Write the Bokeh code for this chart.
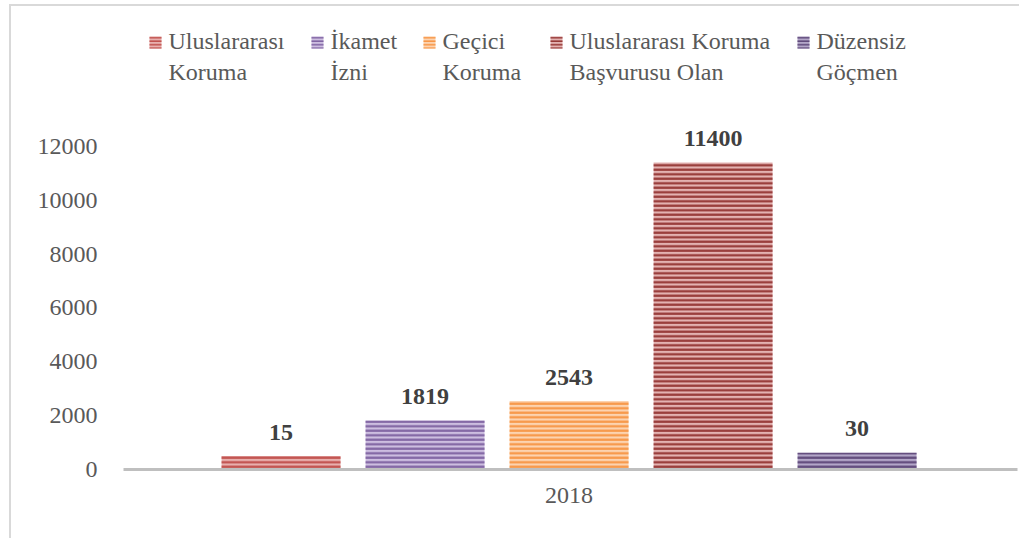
from bokeh.plotting import figure
from bokeh.models import Range1d, FixedTicker, ColumnDataSource, Label, BoxAnnotation
from bokeh.core.properties import value
from bokeh.embed import file_html
from bokeh.resources import INLINE

# ---- Data ----
categories = ["Uluslararası\nKoruma", "İkamet\nİzni", "Geçici\nKoruma",
              "Uluslararası Koruma\nBaşvurusu Olan", "Düzensiz\nGöçmen"]
labels = [15, 1819, 2543, 11400, 30]          # printed data labels
bar_heights = [500, 1819, 2543, 11400, 620]   # bar heights as drawn in the picture
year_label = "2018"
y_ticks = [0, 2000, 4000, 6000, 8000, 10000, 12000]

base_colors = ["#C0504D", "#8064A2", "#F79646", "#953735", "#5F497A"]
light_colors = ["#E8B0AE", "#CDBEE0", "#FCD3B0", "#E3B2B1", "#B3A6C8"]

# ---- Layout (screen px, relative to the plot frame's left edge) ----
legend_marker_x = [26, 188, 300, 427, 674]
FRAME_LEFT = 123
FRAME_BOTTOM = 469

FONT = "Liberation Serif"

p = figure(width=1019, height=538, output_backend="svg", toolbar_location=None,
           x_range=Range1d(-1.094, 5.114), y_range=Range1d(0, 17422),
           min_border_left=FRAME_LEFT, min_border_right=2, min_border_top=0,
           min_border_bottom=538 - FRAME_BOTTOM, outline_line_color=None,
           border_fill_color=None, background_fill_color=None)
p.styles = {
    "background": "linear-gradient(#d9d9d9,#d9d9d9) 9px 4px / 2px 100% no-repeat,"
                  " linear-gradient(#d9d9d9,#d9d9d9) 9px 4px / 100% 2px no-repeat, #ffffff"
}

xs = list(range(len(categories)))
for i, h in enumerate(bar_heights):
    p.vbar(x=[xs[i]], top=[h], bottom=0, width=0.826,
           fill_color=light_colors[i], line_color=None,
           hatch_pattern="horizontal_line", hatch_color=base_colors[i],
           hatch_scale=4.5, hatch_weight=2.2)

src = ColumnDataSource(dict(x=xs, y=bar_heights, t=[str(v) for v in labels]))
p.text(x="x", y="y", text="t", source=src, text_align="center",
       text_baseline="middle", y_offset=-24, text_font=value(FONT),
       text_font_size="24px", text_font_style="bold", text_color="#404040")

# ---- Legend (marker on the first text line, as in the original) ----
for i, cat in enumerate(categories):
    mx = legend_marker_x[i]
    p.add_layout(BoxAnnotation(
        left=mx, right=mx + 12, bottom=FRAME_BOTTOM - 48, top=FRAME_BOTTOM - 36,
        left_units="screen", right_units="screen",
        bottom_units="screen", top_units="screen",
        fill_color=light_colors[i], fill_alpha=1, line_color=None,
        hatch_pattern="horizontal_line", hatch_color=base_colors[i],
        hatch_scale=3.5, hatch_weight=1.6, level="overlay"))
    p.add_layout(Label(
        x=mx + 19, y=FRAME_BOTTOM - 27, x_units="screen", y_units="screen",
        text=cat, text_font=FONT, text_font_size="24px", text_color="#595959",
        text_align="left", text_baseline="top", text_line_height=1.2))

p.xgrid.visible = False
p.ygrid.visible = False

p.xaxis.ticker = FixedTicker(ticks=[2])
p.xaxis.major_label_overrides = {2: year_label}
p.xaxis.major_tick_line_color = None
p.xaxis.minor_tick_line_color = None
p.xaxis.axis_line_color = "#BFBFBF"
p.xaxis.axis_line_width = 3
p.xaxis.major_label_text_font = FONT
p.xaxis.major_label_text_font_size = "24px"
p.xaxis.major_label_text_color = "#595959"
p.xaxis.major_label_standoff = 12

p.yaxis.ticker = FixedTicker(ticks=y_ticks)
p.yaxis.axis_line_color = None
p.yaxis.major_tick_line_color = None
p.yaxis.minor_tick_line_color = None
p.yaxis.major_label_text_font = FONT
p.yaxis.major_label_text_font_size = "24px"
p.yaxis.major_label_text_color = "#595959"
p.yaxis.major_label_standoff = 20

open("out.html", "w").write(file_html(p, INLINE))
